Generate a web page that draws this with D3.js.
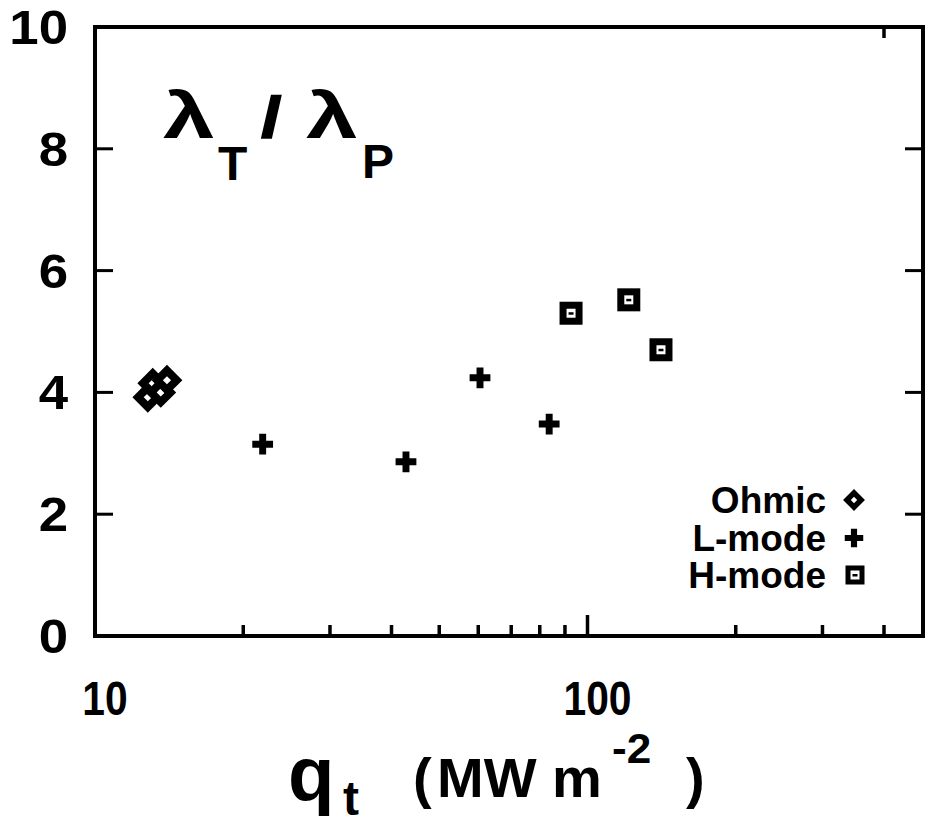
<!DOCTYPE html>
<html>
<head>
<meta charset="utf-8">
<script src="https://cdn.jsdelivr.net/npm/d3@7"></script>
<style>
  body { margin: 0; background: #fff; }
  text { font-family: "Liberation Sans", Arial, sans-serif; font-weight: bold; fill: #000; }
</style>
</head>
<body>
<div id="chart"></div>
<script>
// values
const ohmicQ = [12.8, 13.1, 13.6, 14.0];
const ohmicRatio = [3.92, 4.15, 4.0, 4.2];
const lmodeQ = [21.9, 42.8, 60.5, 83.6];
const lmodeRatio = [3.15, 2.86, 4.24, 3.48];
const hmodeQ = [92.6, 121.3, 141];
const hmodeRatio = [5.30, 5.52, 4.70];

const yTicks = [0, 2, 4, 6, 8, 10];
const xMajor = [10, 100];
const xMinor = [20, 30, 40, 50, 60, 70, 80, 90, 200, 300, 400];
const xTopTicks = [400];
const legendNames = ["Ohmic", "L-mode", "H-mode"];

const W = 929, H = 827;
const frame = {left: 95, right: 923, top: 27, bottom: 636};

const svg = d3.select("#chart").append("svg")
    .attr("width", W)
    .attr("height", H);

const x = d3.scaleLog()
    .domain([10, 480])
    .range([frame.left, frame.right]);
const y = d3.scaleLinear()
    .domain([0, 10])
    .range([frame.bottom, frame.top]);

// text placed at (px,py) and stretched horizontally by sx
function label(px, py, str, size, sx, anchor) {
    return svg.append("text")
        .attr("transform", `translate(${px},${py}) scale(${sx || 1},1)`)
        .attr("text-anchor", anchor || "start")
        .style("font-size", size + "px")
        .text(str);
}

// frame
svg.append("rect")
    .attr("x", frame.left).attr("y", frame.top)
    .attr("width", frame.right - frame.left).attr("height", frame.bottom - frame.top)
    .attr("fill", "none")
    .attr("stroke", "#000")
    .attr("stroke-width", 4);

// y ticks, inward on both sides
const yt = svg.append("g");
yt.selectAll(".tl").data(yTicks.slice(1, -1)).join("line")
    .attr("x1", frame.left).attr("x2", frame.left + 18)
    .attr("y1", d => y(d)).attr("y2", d => y(d))
    .attr("stroke", "#000").attr("stroke-width", 3);
yt.selectAll(".tr").data(yTicks.slice(1, -1)).join("line")
    .attr("x1", frame.right).attr("x2", frame.right - 18)
    .attr("y1", d => y(d)).attr("y2", d => y(d))
    .attr("stroke", "#000").attr("stroke-width", 3);
yTicks.forEach(d => label(68, y(d) + 17, d, 48, 1.1, "end"));

// x ticks
const xt = svg.append("g");
xt.selectAll(".minor").data(xMinor).join("line")
    .attr("x1", d => x(d)).attr("x2", d => x(d))
    .attr("y1", frame.bottom).attr("y2", frame.bottom - 11)
    .attr("stroke", "#000").attr("stroke-width", 3.5);
xt.selectAll(".major").data(xMajor.slice(1)).join("line")
    .attr("x1", d => x(d)).attr("x2", d => x(d))
    .attr("y1", frame.bottom).attr("y2", frame.bottom - 21)
    .attr("stroke", "#000").attr("stroke-width", 3.5);
xt.selectAll(".top").data(xTopTicks).join("line")
    .attr("x1", d => x(d)).attr("x2", d => x(d))
    .attr("y1", frame.top).attr("y2", frame.top + 11)
    .attr("stroke", "#000").attr("stroke-width", 3.5);
xMajor.forEach(d => label(x(d) + 10, 715, d, 48, 0.85, "middle"));

// markers
const pts = svg.append("g");
const diamond = d3.symbol().type(d3.symbolSquare).size(190);
pts.selectAll(".ohm").data(ohmicQ).join("path")
    .attr("d", diamond)
    .attr("transform", (d, i) => `translate(${x(d)},${y(ohmicRatio[i])}) rotate(45)`)
    .attr("fill", "#fff").attr("stroke", "#000").attr("stroke-width", 8);

const cross = d3.symbol().type(d3.symbolCross).size(240);
pts.selectAll(".lm").data(lmodeQ).join("path")
    .attr("d", cross)
    .attr("transform", (d, i) => `translate(${x(d)},${y(lmodeRatio[i])})`)
    .attr("fill", "#000");

pts.selectAll(".hm").data(hmodeQ).join("rect")
    .attr("x", d => x(d) - 8)
    .attr("y", (d, i) => y(hmodeRatio[i]) - 8)
    .attr("width", 16).attr("height", 16)
    .attr("fill", "#fff").attr("stroke", "#000").attr("stroke-width", 7);
pts.selectAll(".hmdot").data(hmodeQ).join("rect")
    .attr("x", d => x(d) - 2.5)
    .attr("y", (d, i) => y(hmodeRatio[i]) - 1)
    .attr("width", 5).attr("height", 2.5)
    .attr("fill", "#000");

// legend
const legY = [500, 538, 575];
legendNames.forEach((d, i) => label(826, legY[i] + 13, d, 37, 1, "end"));
const lg = svg.append("g");
lg.append("path").attr("d", d3.symbol().type(d3.symbolSquare).size(100))
    .attr("transform", `translate(854,${legY[0]}) rotate(45)`)
    .attr("fill", "#fff").attr("stroke", "#000").attr("stroke-width", 5.5);
lg.append("path").attr("d", d3.symbol().type(d3.symbolCross).size(190))
    .attr("transform", `translate(854,${legY[1]})`)
    .attr("fill", "#000");
lg.append("rect").attr("x", 848).attr("y", legY[2] - 7).attr("width", 14).attr("height", 14)
    .attr("fill", "#fff").attr("stroke", "#000").attr("stroke-width", 5);
lg.append("rect").attr("x", 852.5).attr("y", legY[2] - 1).attr("width", 5).attr("height", 2.5)
    .attr("fill", "#000");

// title lambda_T / lambda_P
label(163, 138, "λ", 64, 1.45);
label(218, 180, "T", 48, 1);
label(262, 136, "/", 56, 1.2).attr("stroke", "#000").attr("stroke-width", 2.5);
label(306, 138, "λ", 64, 1.45);
label(362, 178, "P", 48, 1);

// x axis label
label(288, 800, "q", 76, 1);
label(343, 815, "t", 48, 1);
label(413, 797, "(", 56, 1);
label(437, 797, "MW m", 56, 1);
label(612, 763, "-2", 42, 1.05);
label(686, 797, ")", 56, 1);
</script>
</body>
</html>
